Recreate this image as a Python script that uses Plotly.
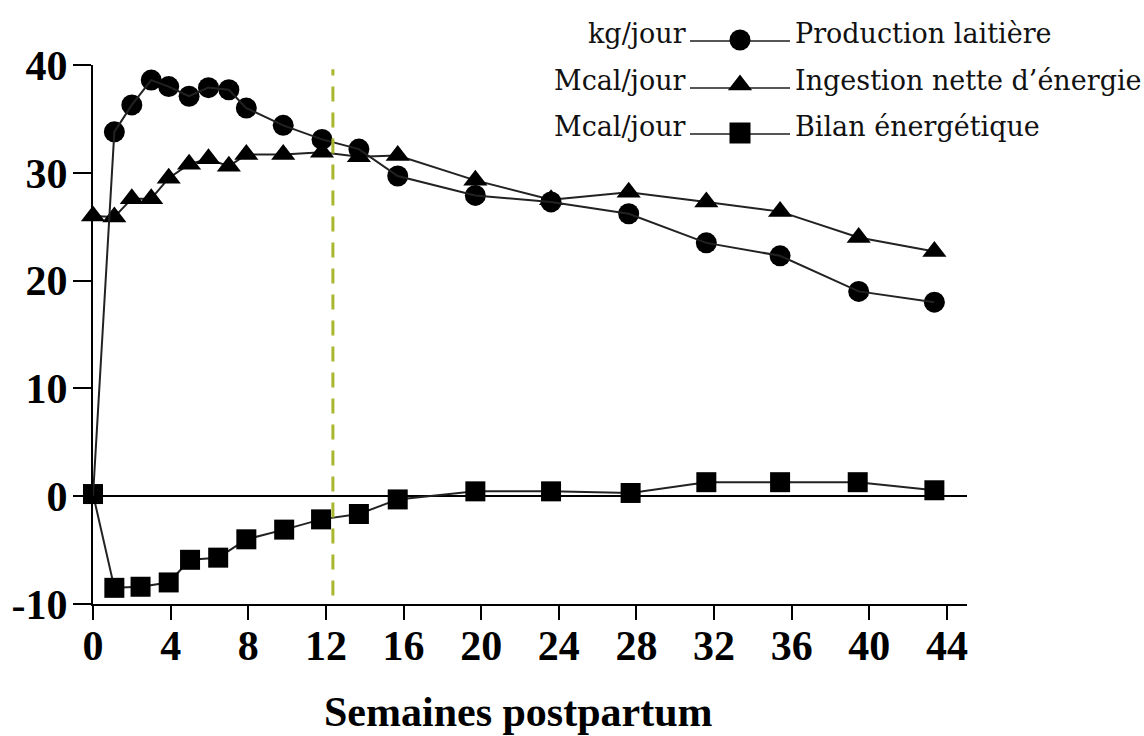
import plotly.graph_objects as go

W, H = 1144, 736

# ---- data ----
weeks = [0, 1.1, 2.0, 3.0, 3.9, 4.95, 5.95, 7.0, 7.9, 9.8, 11.8, 13.7, 15.7,
         19.7, 23.6, 27.6, 31.6, 35.4, 39.45, 43.35]
production = [0, 33.8, 36.3, 38.6, 38.0, 37.1, 37.9, 37.7, 36.0, 34.4, 33.1,
              32.2, 29.7, 27.9, 27.3, 26.2, 23.5, 22.3, 19.0, 18.0]
ingestion = [26.0, 25.9, 27.6, 27.6, 29.5, 30.8, 31.3, 30.6, 31.7, 31.7, 31.9,
             31.5, 31.6, 29.3, 27.5, 28.2, 27.3, 26.4, 24.0, 22.7]
bilan_weeks = [0, 1.1, 2.45, 3.9, 5.0, 6.45, 7.9, 9.85, 11.75, 13.7, 15.7,
               19.7, 23.6, 27.7, 31.6, 35.4, 39.4, 43.35]
bilan = [0.2, -8.5, -8.4, -8.0, -5.9, -5.7, -4.0, -3.1, -2.15, -1.65, -0.3,
         0.45, 0.45, 0.3, 1.3, 1.3, 1.3, 0.55]

x_ticks = [0, 4, 8, 12, 16, 20, 24, 28, 32, 36, 40, 44]
y_ticks = [-10, 0, 10, 20, 30, 40]
y_ticktext = ["-10", "0", "10", "20", "30", "40"]
marker_week = 12.36

series_names = ["Production laitière", "Ingestion nette d\u2019énergie", "Bilan énergétique"]
series_units = ["kg/jour", "Mcal/jour", "Mcal/jour"]
series_symbols = ["circle", "triangle-up", "square"]

# ---- layout geometry (pixels) ----
PX_L, PX_R, PX_T, PX_B = 93, 967, 65, 604
X_MAX = 44 * (PX_R - PX_L) / (947 - PX_L)

LINE_COL = "#222222"
MSIZE = 21
fig = go.Figure()

fig.add_trace(go.Scatter(x=bilan_weeks, y=bilan, mode="lines+markers",
                         line=dict(color=LINE_COL, width=2),
                         marker=dict(symbol="square", size=MSIZE - 1, color="black"),
                         cliponaxis=False, showlegend=False))
fig.add_trace(go.Scatter(x=weeks, y=ingestion, mode="lines+markers",
                         line=dict(color=LINE_COL, width=2),
                         marker=dict(symbol="triangle-up", size=MSIZE, color="black"),
                         cliponaxis=False, showlegend=False))
fig.add_trace(go.Scatter(x=weeks[1:], y=production[1:], mode="markers",
                         marker=dict(symbol="circle", size=MSIZE, color="black"),
                         cliponaxis=False, showlegend=False))
fig.add_trace(go.Scatter(x=weeks, y=production, mode="lines",
                         line=dict(color=LINE_COL, width=2),
                         cliponaxis=False, showlegend=False))

# dashed vertical marker
fig.add_shape(type="line", x0=marker_week, x1=marker_week, y0=-9.2, y1=39.6,
              xref="x", yref="y", line=dict(color="#a9b62e", width=3, dash="15px,11px"))

# ---- custom legend drawn on a full-page pixel axis ----
legend_rows_y = [41, 88, 134]
for i, (nm, un, sym) in enumerate(zip(series_names, series_units, series_symbols)):
    yy = legend_rows_y[i]
    fig.add_trace(go.Scatter(x=[690, 790], y=[yy, yy], mode="lines",
                             line=dict(color="#555555", width=2),
                             xaxis="x2", yaxis="y2", showlegend=False, hoverinfo="skip"))
    fig.add_trace(go.Scatter(x=[740], y=[yy - (1 if sym != "triangle-up" else 3)], mode="markers",
                             marker=dict(symbol=sym, size=MSIZE, color="black"),
                             xaxis="x2", yaxis="y2", showlegend=False, hoverinfo="skip"))
    fig.add_annotation(x=688 / W, y=1 - (yy - 8) / H, xref="paper", yref="paper",
                       text=un, showarrow=False, xanchor="right", yanchor="middle",
                       font=dict(family="DejaVu Serif", size=27, color="#111"))
    fig.add_annotation(x=793 / W, y=1 - (yy - 8) / H, xref="paper", yref="paper",
                       text=nm, showarrow=False, xanchor="left", yanchor="middle",
                       font=dict(family="DejaVu Serif", size=27, color="#111"))

# axis title
fig.add_annotation(x=518 / W, y=1 - 712 / H, xref="paper", yref="paper",
                   text="<b>Semaines postpartum</b>", showarrow=False,
                   xanchor="center", yanchor="middle",
                   font=dict(family="Liberation Serif", size=42, color="black"))

tickfont = dict(family="Liberation Serif", size=42, color="black")
fig.update_layout(
    width=W, height=H,
    margin=dict(l=0, r=0, t=0, b=0),
    paper_bgcolor="white", plot_bgcolor="rgba(0,0,0,0)",
    xaxis=dict(domain=[PX_L / W, PX_R / W], range=[0, X_MAX], tickvals=x_ticks,
               ticktext=[f"<b>{v}</b>" for v in x_ticks],
               ticks="outside", ticklen=14, tickwidth=2, tickcolor="black",
               showline=True, linewidth=2, linecolor="black", showgrid=False,
               zeroline=False, tickfont=tickfont, automargin=False, anchor="y",
               ticklabelstandoff=-10),
    yaxis=dict(domain=[1 - PX_B / H, 1 - PX_T / H], range=[-10, 40], tickvals=y_ticks,
               ticktext=[f"<b>{t}</b>" for t in y_ticktext],
               ticks="outside", ticklen=18, tickwidth=2, tickcolor="black",
               showline=True, linewidth=2, linecolor="black", showgrid=False,
               zeroline=True, zerolinecolor="black", zerolinewidth=2,
               tickfont=tickfont, automargin=False, anchor="x",
               ticklabelstandoff=-3),
    xaxis2=dict(domain=[0, 1], range=[0, W], visible=False, anchor="y2", fixedrange=True),
    yaxis2=dict(domain=[0, 1], range=[H, 0], visible=False, anchor="x2", fixedrange=True),
    showlegend=False,
)

fig.write_html("out.html", config={"displayModeBar": False},
               post_script="document.body.style.margin='0px';")
